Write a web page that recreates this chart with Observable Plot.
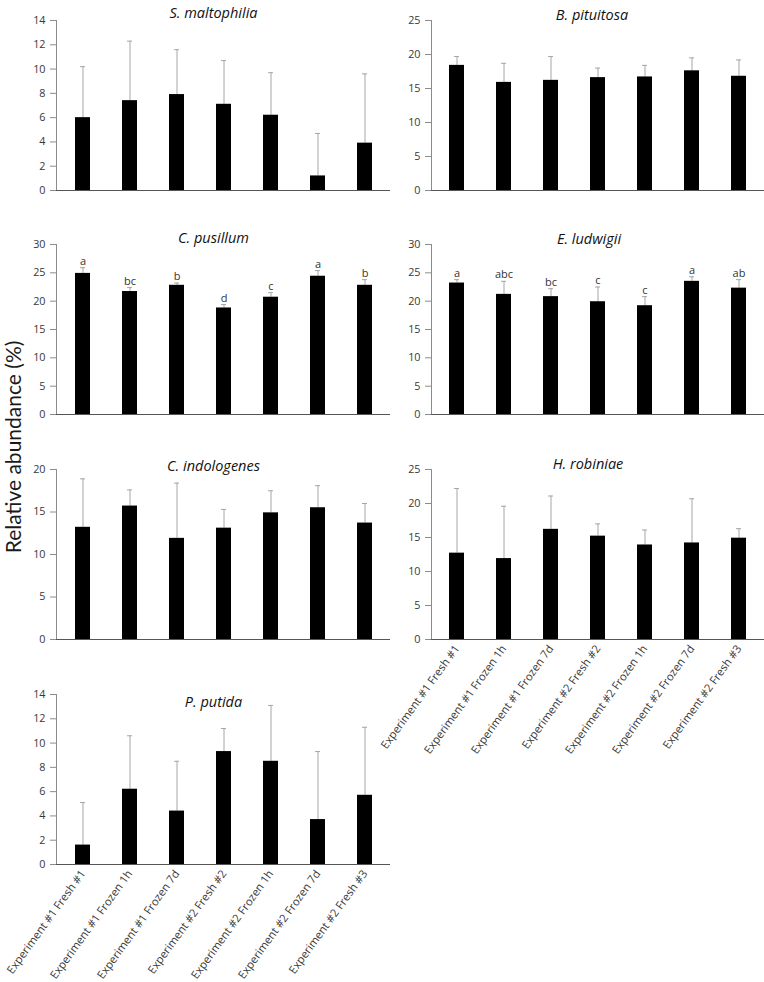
<!DOCTYPE html>
<html><head><meta charset="utf-8">
<script src="https://cdn.jsdelivr.net/npm/d3@7"></script>
<script src="https://cdn.jsdelivr.net/npm/@observablehq/plot@0.6"></script>
<style>
body{margin:0;background:#fff;}
#wrap{position:relative;width:764px;height:982px;overflow:hidden;font-family:Lato,sans-serif;background:#fff;}
#wrap svg{position:absolute;background:transparent !important;overflow:visible;}
#ylab{position:absolute;left:12px;top:447px;transform:translate(-50%,-50%) rotate(-90deg);font-size:21px;white-space:nowrap;color:#1a1a1a;font-family:Lato,sans-serif;}
</style></head><body><div id="wrap"><div id="ylab">Relative abundance (%)</div></div>
<script>
const conditions = ["Experiment #1 Fresh #1","Experiment #1 Frozen 1h","Experiment #1 Frozen 7d","Experiment #2 Fresh #2","Experiment #2 Frozen 1h","Experiment #2 Frozen 7d","Experiment #2 Fresh #3"];

const sMaltophiliaMean = [6.0, 7.4, 7.9, 7.1, 6.2, 1.2, 3.9];
const sMaltophiliaSD   = [4.2, 4.9, 3.7, 3.6, 3.5, 3.5, 5.7];
const bPituitosaMean   = [18.4, 15.9, 16.2, 16.6, 16.7, 17.6, 16.8];
const bPituitosaSD     = [1.3, 2.8, 3.5, 1.4, 1.7, 1.9, 2.4];
const cPusillumMean    = [24.9, 21.7, 22.8, 18.8, 20.7, 24.4, 22.8];
const cPusillumSD      = [1.0, 0.7, 0.4, 0.6, 0.8, 1.0, 1.0];
const cPusillumLetters = ["a","bc","b","d","c","a","b"];
const eLudwigiiMean    = [23.2, 21.2, 20.8, 19.9, 19.2, 23.5, 22.3];
const eLudwigiiSD      = [0.6, 2.3, 1.4, 2.6, 1.6, 0.8, 1.5];
const eLudwigiiLetters = ["a","abc","bc","c","c","a","ab"];
const cIndologenesMean = [13.2, 15.7, 11.9, 13.1, 14.9, 15.5, 13.7];
const cIndologenesSD   = [5.7, 1.9, 6.5, 2.2, 2.6, 2.6, 2.3];
const hRobiniaeMean    = [12.7, 11.9, 16.2, 15.2, 13.9, 14.2, 14.9];
const hRobiniaeSD      = [9.5, 7.7, 4.9, 1.8, 2.2, 6.5, 1.4];
const pPutidaMean      = [1.6, 6.2, 4.4, 9.3, 8.5, 3.7, 5.7];
const pPutidaSD        = [3.5, 4.4, 4.1, 1.9, 4.6, 5.6, 5.6];

const panels = [
  {name:"S. maltophilia", means:sMaltophiliaMean, sds:sMaltophiliaSD, yMax:14, yStep:2, col:0, top:20, tdx:-10, tdy:-13},
  {name:"B. pituitosa", means:bPituitosaMean, sds:bPituitosaSD, yMax:25, yStep:5, col:1, top:20, tdx:-6, tdy:-11},
  {name:"C. pusillum", means:cPusillumMean, sds:cPusillumSD, letters:cPusillumLetters, yMax:30, yStep:5, col:0, top:244, tdx:-10, tdy:-12},
  {name:"E. ludwigii", means:eLudwigiiMean, sds:eLudwigiiSD, letters:eLudwigiiLetters, yMax:30, yStep:5, col:1, top:244, tdx:-9, tdy:-11},
  {name:"C. indologenes", means:cIndologenesMean, sds:cIndologenesSD, yMax:20, yStep:5, col:0, top:469, tdx:-10, tdy:-9},
  {name:"H. robiniae", means:hRobiniaeMean, sds:hRobiniaeSD, yMax:25, yStep:5, col:1, top:469, tdx:-10, tdy:-11, labels:true},
  {name:"P. putida", means:pPutidaMean, sds:pPutidaSD, yMax:14, yStep:2, col:0, top:694, tdx:-10, tdy:2, labels:true}
];

const wrap = document.getElementById("wrap");
const PH = 170;

for (const o of panels) {
  const data = conditions.map((c, i) => ({c, m: o.means[i], top: o.means[i] + o.sds[i], l: o.letters ? o.letters[i] : ""}));
  const left = o.col === 0 ? 0 : 382;
  const mL = o.col === 0 ? 56 : 49;
  const w = o.col === 0 ? 390 : 382;
  const mT = 20;
  const mB = o.labels ? 118 : 4;
  const ticks = d3.range(0, o.yMax + 1e-9, o.yStep);
  const marks = [
    Plot.ruleX(data, {x: "c", y1: "m", y2: "top", stroke: "#a6a6a6", strokeWidth: 1}),
    Plot.tickY(data, {x: "c", y: "top", stroke: "#a6a6a6", strokeWidth: 1, insetLeft: 5, insetRight: 5}),
    Plot.barY(data, {x: "c", y: "m", fill: "#000"}),
    Plot.axisY({ticks, tickSize: 6, tickPadding: 5, stroke: "#8c8c8c", fill: "#383838", fontSize: 10.8, fontFamily: "'Open Sans', sans-serif"}),
    Plot.frame({anchor: "left", stroke: "#8c8c8c"}),
    Plot.ruleY([0], {stroke: "#555"}),
    Plot.text([o.name], {text: d => d, frameAnchor: "top", dx: o.tdx, dy: o.tdy, fontStyle: "italic", fontWeight: "normal", fontSize: 14.5, fill: "#111", fontFamily: "'Open Sans', sans-serif"})
  ];
  if (o.letters) {
    marks.push(Plot.text(data, {x: "c", y: "top", text: "l", dy: -3, lineAnchor: "bottom", fontSize: 11, fill: "#333", fontFamily: "'Open Sans', sans-serif"}));
  }
  if (o.labels) {
    marks.push(Plot.axisX({tickRotate: -54, tickSize: 0, tickPadding: 7, fontSize: 11.2, fill: "#383838", fontFamily: "'Open Sans', sans-serif"}));
  }
  const chart = Plot.plot({
    width: w,
    height: mT + PH + mB,
    marginLeft: mL,
    marginRight: 0,
    marginTop: mT,
    marginBottom: mB,
    style: {fontFamily: "'Open Sans', sans-serif", background: "transparent", overflow: "visible"},
    x: {domain: conditions, paddingInner: 0.685, paddingOuter: 0.3425, axis: o.labels ? undefined : null, label: null},
    y: {domain: [0, o.yMax], label: null},
    marks
  });
  chart.style.position = "absolute";
  chart.style.left = left + "px";
  chart.style.top = (o.top - mT) + "px";
  wrap.appendChild(chart);
}
</script>
</body></html>
